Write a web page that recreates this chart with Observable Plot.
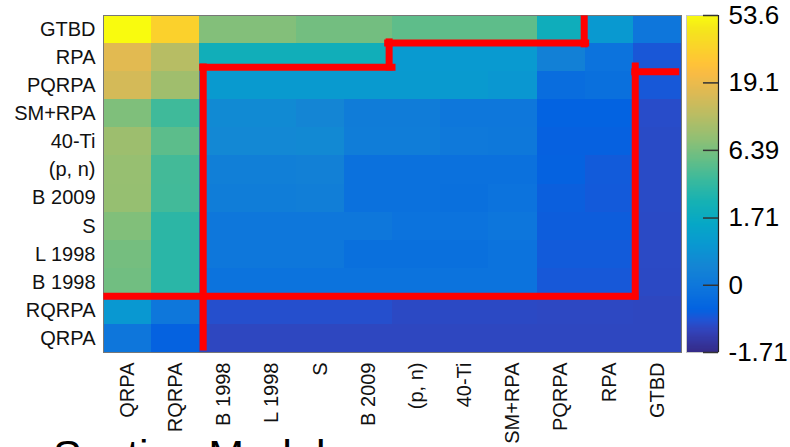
<!DOCTYPE html>
<html><head><meta charset="utf-8">
<script src="https://cdn.jsdelivr.net/npm/d3@7"></script>
<script src="https://cdn.jsdelivr.net/npm/@observablehq/plot@0.6"></script>
<style>
html,body{margin:0;padding:0;background:#fff;overflow:hidden}
#wrap{position:relative;width:790px;height:447px;overflow:hidden;font-family:"Liberation Sans",Arial,Helvetica,sans-serif}
#wrap svg{position:absolute;top:0}
#note{position:absolute;left:53px;top:434px;font-size:43px;line-height:43px;color:#000;white-space:nowrap}
</style></head><body>
<div id="wrap"><div id="note">Section Model</div></div>
<script>
// ---- data ----
const rowLabels = ["GTBD","RPA","PQRPA","SM+RPA","40-Ti","(p, n)","B 2009","S","L 1998","B 1998","RQRPA","QRPA"];
const colLabels = ["QRPA","RQRPA","B 1998","L 1998","S","B 2009","(p, n)","40-Ti","SM+RPA","PQRPA","RPA","GTBD"];
const values = [
  [53.6, 31.8, 6.9, 6.9, 6.1, 6.1, 5.1, 5.1, 5.1, 2.0, 0.85, -0.02],
  [17.2, 11.1, 2.14, 2.14, 2.14, 2.14, 0.87, 0.87, 0.87, 0.2, -0.08, -0.62],
  [14.9, 8.9, 0.9, 0.9, 0.9, 0.9, 0.9, 0.9, 0.77, -0.2, -0.14, -0.6],
  [6.7, 3.9, 0.42, 0.42, 0.3, 0.1, 0.1, 0.0, 0.0, -0.44, -0.44, -0.8],
  [8.7, 5.0, 0.37, 0.37, 0.4, 0.12, 0.12, 0.03, 0.02, -0.46, -0.46, -0.83],
  [8.2, 4.05, 0.17, 0.17, 0.2, -0.12, -0.12, -0.12, -0.12, -0.45, -0.56, -0.83],
  [8.1, 4.0, 0.12, 0.12, 0.15, -0.12, -0.12, -0.14, -0.08, -0.5, -0.57, -0.83],
  [6.8, 3.2, 0.0, 0.0, 0.0, 0.0, -0.08, -0.08, -0.03, -0.52, -0.52, -0.84],
  [6.2, 3.1, 0.0, 0.0, 0.0, -0.14, -0.14, -0.14, -0.08, -0.56, -0.56, -0.85],
  [6.0, 3.1, -0.08, -0.08, -0.08, -0.08, -0.08, -0.08, -0.08, -0.6, -0.6, -0.86],
  [0.8, 0.0, -0.76, -0.76, -0.76, -0.76, -0.86, -0.86, -0.86, -0.88, -0.88, -0.9],
  [-0.02, -0.45, -0.9, -0.9, -0.9, -0.9, -0.9, -0.9, -0.9, -0.9, -0.9, -0.9]
];
const colorTicks = [-1.71, 0, 1.71, 6.39, 19.1, 53.6];
const colorTickLabels = ["-1.71", "0", "1.71", "6.39", "19.1", "53.6"];
// red boundary segments, in cell-index units (column from left, row from top)
const redSegments = [
  {x1: 0.07, y1: 10.0, x2: 11.03, y2: 10.0},
  {x1: 11.04, y1: 10.0, x2: 11.04, y2: 1.8},
  {x1: 11.03, y1: 2.0, x2: 11.88, y2: 2.0},
  {x1: 2.07, y1: 11.8, x2: 2.07, y2: 1.83},
  {x1: 2.06, y1: 1.84, x2: 5.99, y2: 1.84},
  {x1: 5.93, y1: 1.83, x2: 5.93, y2: 0.94},
  {x1: 5.9, y1: 0.98, x2: 10.01, y2: 0.98},
  {x1: 9.98, y1: 1.01, x2: 9.98, y2: 0.12}
];

// ---- parula colormap ----
const parulaStops = [
  [1,[0.2081,0.1663,0.5292]],[5,[0.1959,0.2645,0.7279]],[7,[0.1253,0.3242,0.8303]],
  [9,[0.0117,0.3875,0.8820]],[13,[0.0498,0.4586,0.8641]],[17,[0.0793,0.5200,0.8312]],
  [21,[0.0343,0.5966,0.8199]],[25,[0.0228,0.6535,0.7768]],[29,[0.0843,0.6928,0.7062]],
  [33,[0.2178,0.7250,0.6193]],[37,[0.3953,0.7459,0.5244]],[41,[0.5709,0.7485,0.4494]],
  [45,[0.7184,0.7411,0.3905]],[49,[0.8507,0.7299,0.3360]],[53,[0.9739,0.7314,0.2666]],
  [55,[0.9990,0.7653,0.2164]],[57,[0.9880,0.8066,0.1794]],[61,[0.9589,0.8949,0.1132]],[64,[0.9763,0.9831,0.0538]]
];
const parulaScale = d3.scaleLinear()
  .domain(parulaStops.map(d => (d[0] - 1) / 63))
  .range(parulaStops.map(d => d3.rgb(d[1][0]*255, d[1][1]*255, d[1][2]*255).formatHex()))
  .interpolate(d3.interpolateRgb).clamp(true);
const parula = t => parulaScale(t);
const colorOpts = {type: "symlog", constant: 1, domain: [-1.71, 53.6], interpolate: parula};

const FONT = '"Liberation Sans", Arial, Helvetica, sans-serif';
const wrap = document.getElementById("wrap");

// ---- heatmap ----
const cells = values.flatMap((row, ri) => row.map((v, ci) => ({ri, ci, v})));
const main = Plot.plot({
  width: 790, height: 447,
  marginLeft: 103, marginRight: 109, marginTop: 15, marginBottom: 95,
  x: {domain: [0, 12], axis: null},
  y: {domain: [0, 12], reverse: true, axis: null},
  color: colorOpts,
  style: {fontFamily: FONT, background: "transparent", overflow: "visible", color: "#111"},
  marks: [
    Plot.rect(cells, {x1: "ci", x2: d => d.ci + 1, y1: "ri", y2: d => d.ri + 1, fill: "v", shapeRendering: "crispEdges"}),
    Plot.frame({stroke: "#777", strokeWidth: 1}),
    Plot.link(redSegments, {x1: "x1", y1: "y1", x2: "x2", y2: "y2", stroke: "#ff0000", strokeWidth: 7, strokeLinecap: "square"}),
    Plot.axisX({anchor: "bottom", ticks: colLabels.map((_, i) => i + 0.5), tickFormat: d => colLabels[Math.floor(d)],
      tickRotate: -90, tickSize: 0, tickPadding: 10, fontSize: 20, label: null}),
    Plot.axisY({anchor: "left", ticks: rowLabels.map((_, i) => i + 0.5), tickFormat: d => rowLabels[Math.floor(d)],
      tickSize: 0, tickPadding: 8, fontSize: 20, label: null})
  ]
});
main.style.left = "0px";
wrap.appendChild(main);

// ---- colorbar ----
const sMin = -Math.log1p(1.71), sMax = Math.log1p(53.6), N = 300;
const inv = s => Math.sign(s) * Math.expm1(Math.abs(s));
const slices = d3.range(N).map(i => {
  const a = sMin + (sMax - sMin) * i / N, b = sMin + (sMax - sMin) * (i + 1) / N;
  return {y1: inv(a), y2: inv(b), v: inv((a + b) / 2)};
});
const cb = Plot.plot({
  width: 110, height: 447,
  marginLeft: 6, marginRight: 72, marginTop: 15, marginBottom: 95,
  x: {domain: [0, 1], axis: null},
  y: {type: "symlog", constant: 1, domain: [-1.71, 53.6], axis: null},
  color: colorOpts,
  style: {fontFamily: FONT, background: "transparent", overflow: "visible", color: "#000"},
  marks: [
    Plot.rect(slices, {x1: 0, x2: 1, y1: "y1", y2: "y2", fill: "v", shapeRendering: "crispEdges"}),
    Plot.frame({stroke: "#c8c8c8"}),
    Plot.ruleX([1], {stroke: "#222", strokeWidth: 1.2}),
    Plot.ruleY(colorTicks, {x1: 0.53, x2: 1, stroke: "#333", strokeWidth: 1.5}),
    Plot.axisY({anchor: "right", ticks: colorTicks, tickFormat: d => colorTickLabels[colorTicks.indexOf(d)],
      tickSize: 0, tickPadding: 10, fontSize: 26, label: null})
  ]
});
cb.style.left = "680px";
wrap.appendChild(cb);
</script>
</body></html>
